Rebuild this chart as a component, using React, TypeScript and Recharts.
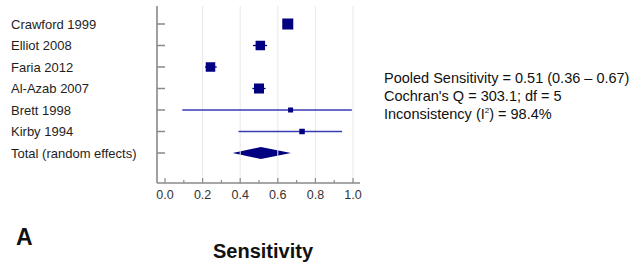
import React from 'react';
import { ScatterChart, Scatter, XAxis, YAxis, ReferenceLine, ReferenceArea } from 'recharts';

const studies = ['Crawford 1999', 'Elliot 2008', 'Faria 2012', 'Al-Azab 2007', 'Brett 1998', 'Kirby 1994'];
const sensitivity = [0.653, 0.507, 0.242, 0.5, 0.668, 0.729];
const ciLow = [0.63, 0.468, 0.213, 0.465, 0.092, 0.391];
const ciHigh = [0.68, 0.543, 0.275, 0.535, 0.994, 0.942];
const markerSize = [11, 9.5, 9.5, 10, 5, 5.5];
const totalLabel = 'Total (random effects)';
const pooled = 0.51;
const pooledLow = 0.36;
const pooledHigh = 0.67;
const xTicks = [0, 0.1, 0.2, 0.3, 0.4, 0.5, 0.6, 0.7, 0.8, 0.9, 1.0];
const majorLabels = ['0.0', '0.2', '0.4', '0.6', '0.8', '1.0'];
const gridValues = [0.2, 0.4, 0.6, 0.8, 1.0];
const statsLines = ['Pooled Sensitivity = 0.51 (0.36 \u2013 0.67)', "Cochran's Q = 303.1; df = 5"];

const rowLabels = [...studies, totalLabel];
const rowIndex = rowLabels.map((_, i) => i + 1);
const totalRow = rowLabels.length;

const rows = studies.map((s, i) => ({
  name: s,
  row: i + 1,
  x: sensitivity[i],
  lo: ciLow[i],
  hi: ciHigh[i],
  size: markerSize[i],
}));

const NAVY = '#000080';
const AXIS = '#8a8a8a';
const FONT = '"Liberation Sans", Arial, Helvetica, sans-serif';

const YTick = (props: any) => {
  const { x, y, payload } = props;
  const label = rowLabels[payload.value - 1];
  return (
    <g>
      <line x1={x} x2={x + 8} y1={y} y2={y} stroke={AXIS} strokeWidth={1.5} />
      <text x={11} y={y + 4.5} fontSize={13} fill="#1e1e1e" fontFamily={FONT} textAnchor="start">
        {label}
      </text>
    </g>
  );
};

const XTick = (props: any) => {
  const { x, y, payload, index } = props;
  const major = index % 2 === 0;
  return (
    <g>
      <line x1={x} x2={x} y1={y} y2={y - (major ? 5 : 3)} stroke={AXIS} strokeWidth={1.2} />
      {major && (
        <text x={x} y={y + 16} fontSize={12.5} fill="#333" fontFamily={FONT} textAnchor="middle">
          {majorLabels[index / 2]}
        </text>
      )}
    </g>
  );
};

const Square = (props: any) => {
  const { cx, cy, payload } = props;
  const s = payload.size;
  return <rect x={cx - s / 2} y={cy - s / 2} width={s} height={s} fill={NAVY} />;
};

const Diamond = (props: any) => {
  const { x, y, width, height } = props;
  const h = Math.abs(height);
  const top = height < 0 ? y + height : y;
  const mx = x + (width * (pooled - pooledLow)) / (pooledHigh - pooledLow);
  const my = top + h / 2;
  const pts = `${x},${my} ${mx},${top} ${x + width},${my} ${mx},${top + h}`;
  return <polygon points={pts} fill={NAVY} />;
};

export default function App() {
  return (
    <div style={{ position: 'absolute', left: 0, top: 0, width: 638, height: 266, background: '#fff' }}>
      <ScatterChart width={638} height={266} margin={{ top: 6, right: 278, bottom: 53, left: 10 }}>
        <XAxis
          type="number"
          dataKey="x"
          domain={[0, 1]}
          ticks={xTicks}
          interval={0}
          padding={{ left: 8, right: 7 }}
          tickSize={0}
          tickMargin={0}
          tickLine={false}
          tick={<XTick />}
          height={30}
          axisLine={{ stroke: AXIS, strokeWidth: 1.6 }}
        />
        <YAxis
          type="number"
          dataKey="row"
          domain={[1, totalRow]}
          reversed
          ticks={rowIndex}
          interval={0}
          padding={{ top: 18, bottom: 30 }}
          width={147}
          tickSize={0}
          tickMargin={0}
          tickLine={false}
          tick={<YTick />}
          axisLine={{ stroke: AXIS, strokeWidth: 1.6 }}
        />
        {gridValues.map((v) => (
          <ReferenceLine key={'g' + v} x={v} stroke="#e8e8e8" strokeWidth={1} />
        ))}
        {rows.map((r) => (
          <ReferenceLine
            key={'ci' + r.name}
            segment={[
              { x: r.lo, y: r.row },
              { x: r.hi, y: r.row },
            ]}
            stroke={r.hi - r.lo > 0.2 ? '#3a3ab4' : NAVY}
            strokeWidth={1.3}
            ifOverflow="visible"
          />
        ))}
        <ReferenceArea
          x1={pooledLow}
          x2={pooledHigh}
          y1={totalRow - 0.28}
          y2={totalRow + 0.28}
          shape={<Diamond />}
          ifOverflow="visible"
        />
        <Scatter data={rows} shape={<Square />} isAnimationActive={false} />
      </ScatterChart>
      <svg width={638} height={266} style={{ position: 'absolute', left: 0, top: 0, pointerEvents: 'none' }}>
        <text x={384} y={83} fontSize={14.5} fill="#111" fontFamily={FONT}>{statsLines[0]}</text>
        <text x={384} y={101} fontSize={14.5} fill="#111" fontFamily={FONT}>{statsLines[1]}</text>
        <text x={384} y={118.5} fontSize={14.5} fill="#111" fontFamily={FONT}>
          Inconsistency (I<tspan fontSize={8} dy={-6}>2</tspan><tspan dy={6}>) = 98.4%</tspan>
        </text>
        <text x={263} y={258} fontSize={20} fontWeight="bold" fill="#111" fontFamily={FONT} textAnchor="middle">
          Sensitivity
        </text>
        <text x={16} y={245} fontSize={23} fontWeight="bold" fill="#111" fontFamily={FONT}>
          A
        </text>
      </svg>
    </div>
  );
}
